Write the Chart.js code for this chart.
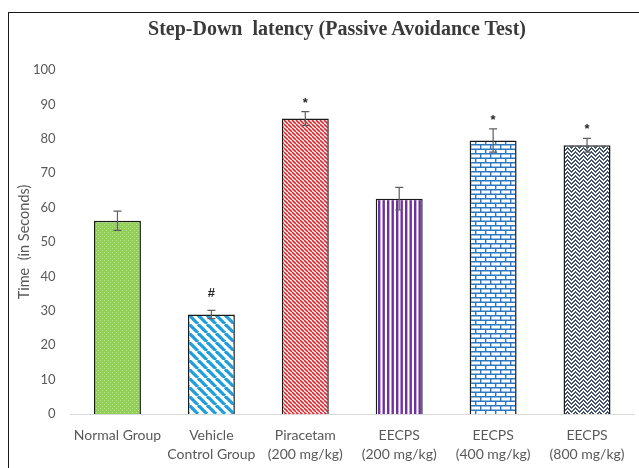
<!DOCTYPE html>
<html>
<head>
<meta charset="utf-8">
<script src="https://cdn.jsdelivr.net/npm/chart.js@4.4.1/dist/chart.umd.min.js"></script>
<style>
  html, body { margin: 0; padding: 0; background: #fff; }
  #wrap { position: relative; width: 639px; height: 468px; overflow: hidden; }
  #frame { position: absolute; left: 8px; top: 12px; width: 700px; height: 600px; border-left: 1.5px solid #1a1a1a; border-top: 1.5px solid #1a1a1a; box-sizing: border-box; pointer-events: none; }
  #title { position: absolute; left: 87px; width: 500px; top: 17px; text-align: center; font-family: "Liberation Serif", "DejaVu Serif", serif; font-weight: bold; font-size: 20px; color: #3a3a3a; white-space: pre; }
  canvas { position: absolute; left: 0; top: 0; }
</style>
</head>
<body>
<div id="wrap">
  <canvas id="c" width="639" height="468"></canvas>
  <div id="frame"></div>
  <div id="title">Step-Down  latency (Passive Avoidance Test)</div>
</div>
<script>
// ---- data ----
const categories = [
  ['Normal Group'],
  ['Vehicle', 'Control Group'],
  ['Piracetam', '(200 mg/kg)'],
  ['EECPS', '(200 mg/kg)'],
  ['EECPS', '(400 mg/kg)'],
  ['EECPS', '(800 mg/kg)']
];
const latencyMeans = [56.2, 28.9, 85.9, 62.6, 79.5, 78.1];
const latencyErrors = [2.8, 1.2, 2.0, 3.3, 3.4, 2.0];
const significanceMarks = ['', '#', '*', '', '*', '*'];
const yTicks = [0, 10, 20, 30, 40, 50, 60, 70, 80, 90, 100];
const yAxisTitle = 'Time  (in Seconds)';

// ---- patterns ----
const canvas = document.getElementById('c');
const mainCtx = canvas.getContext('2d');
function makePattern(w, h, draw) {
  const t = document.createElement('canvas');
  t.width = w; t.height = h;
  const x = t.getContext('2d');
  draw(x, w, h);
  return mainCtx.createPattern(t, 'repeat');
}
const pGreen = makePattern(4, 4, (x) => {
  x.fillStyle = '#92CF58'; x.fillRect(0, 0, 4, 4);
  x.fillStyle = '#BFE49C'; x.fillRect(0, 0, 1, 1); x.fillRect(2, 2, 1, 1);
});
function diag(color, size, lw) {
  return makePattern(size, size, (x) => {
    x.fillStyle = '#fff'; x.fillRect(0, 0, size, size);
    x.strokeStyle = color; x.lineWidth = lw;
    for (const k of [-size, 0, size]) {
      x.beginPath(); x.moveTo(k, 0); x.lineTo(k + size, size); x.stroke();
    }
  });
}
const pBlueDiag = diag('#1E9FDC', 9, 3.2);
const pRedDiag = diag('#DE2A2F', 4, 1.6);
const pPurple = makePattern(9, 1, (x) => {
  x.fillStyle = '#fff'; x.fillRect(0, 0, 9, 1);
  x.fillStyle = '#7030A0'; x.fillRect(0, 0, 2.4, 1); x.fillRect(4.5, 0, 2.4, 1);
});
const pBrick = makePattern(10, 9, (x) => {
  x.fillStyle = '#fff'; x.fillRect(0, 0, 10, 9);
  x.strokeStyle = '#2A78C2'; x.lineWidth = 1.4;
  x.beginPath();
  x.moveTo(0, 0.7); x.lineTo(10, 0.7);
  x.moveTo(0, 5.2); x.lineTo(10, 5.2);
  x.moveTo(0.7, 0.7); x.lineTo(0.7, 5.2);
  x.moveTo(5.7, 5.2); x.lineTo(5.7, 9);
  x.stroke();
});
const pZig = makePattern(8, 8, (x) => {
  x.fillStyle = '#fff'; x.fillRect(0, 0, 8, 8);
  x.fillStyle = '#44546A';
  const px = [[0,0],[1,1],[2,2],[3,3],[4,2],[5,1],[6,0],[7,7],
              [0,4],[1,5],[2,6],[3,7],[4,6],[5,5],[6,4],[7,3]];
  px.forEach(([a,b]) => { x.fillRect(a, b, 1, 1); x.fillRect(a, (b + 1) % 8, 1, 1); });
});
const barFills = [pGreen, pBlueDiag, pRedDiag, pPurple, pBrick, pZig];

// ---- plugins ----
const errorBarPlugin = {
  id: 'errorBars',
  afterDatasetsDraw(chart) {
    const ctx = chart.ctx;
    const meta = chart.getDatasetMeta(0);
    const ys = chart.scales.y;
    ctx.save();
    ctx.strokeStyle = '#5f5f5f';
    ctx.lineWidth = 1.2;
    meta.data.forEach((bar, i) => {
      const v = latencyMeans[i], e = latencyErrors[i];
      const yTop = ys.getPixelForValue(v + e);
      const yBot = ys.getPixelForValue(v - e);
      const x = bar.x;
      ctx.beginPath();
      ctx.moveTo(x, yTop); ctx.lineTo(x, yBot);
      ctx.moveTo(x - 4, yTop); ctx.lineTo(x + 4, yTop);
      ctx.moveTo(x - 4, yBot); ctx.lineTo(x + 4, yBot);
      ctx.stroke();
      const mark = significanceMarks[i];
      if (mark) {
        ctx.fillStyle = '#262626';
        ctx.font = 'bold 13px "Liberation Sans", Arial, sans-serif';
        ctx.textAlign = 'center';
        ctx.textBaseline = 'alphabetic';
        const off = mark === '#' ? 13 : 5;
        ctx.fillText(mark, x, yTop - off);
      }
    });
    ctx.restore();
  }
};

new Chart(canvas, {
  type: 'bar',
  data: {
    labels: categories,
    datasets: [{
      data: latencyMeans,
      backgroundColor: barFills,
      borderColor: '#1a1a1a',
      borderWidth: 1.5,
      barPercentage: 0.5,
      categoryPercentage: 1.0
    }]
  },
  options: {
    responsive: false,
    animation: false,
    events: [],
    layout: { padding: { left: 10, right: 5, top: 70, bottom: 0 } },
    plugins: {
      legend: { display: false },
      title: { display: false },
      tooltip: { enabled: false }
    },
    scales: {
      x: {
        grid: { display: false },
        border: { display: true, color: '#D9D9D9', width: 1 },
        ticks: {
          autoSkip: false, maxRotation: 0, minRotation: 0,
          color: '#595959',
          padding: 4,
          font: { family: 'Lato, "Open Sans", sans-serif', size: 14, lineHeight: '19px' }
        },
        afterFit(s) { s.height = 54; }
      },
      y: {
        min: 0, max: 100,
        afterBuildTicks(s) { s.ticks = yTicks.map(v => ({ value: v })); },
        grid: { display: false, drawTicks: false },
        border: { display: false },
        ticks: {
          color: '#595959',
          padding: 15,
          font: { family: 'Lato, "Open Sans", sans-serif', size: 13 }
        },
        title: {
          display: true,
          text: yAxisTitle,
          color: '#595959',
          padding: { top: 6, bottom: 0 },
          font: { family: 'Lato, "Open Sans", sans-serif', size: 14.5, lineHeight: 1.2 }
        },
        afterFit(s) { s.width = 60.5; }
      }
    }
  },
  plugins: [errorBarPlugin]
});
</script>
</body>
</html>
